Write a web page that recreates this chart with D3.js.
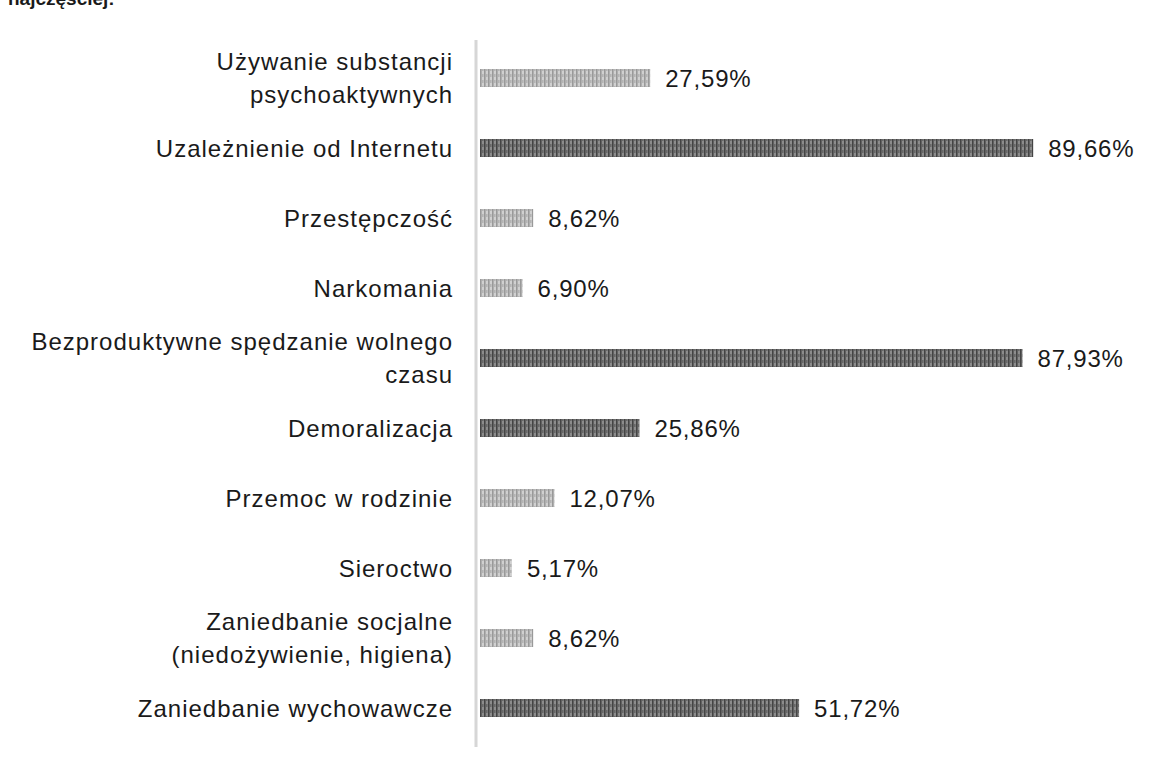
<!DOCTYPE html>
<html>
<head>
<meta charset="utf-8">
<script src="https://cdn.jsdelivr.net/npm/d3@7"></script>
<style>
  body { margin: 0; background: #fff; }
  svg text { font-family: "Liberation Sans", Arial, sans-serif; fill: #1a1a1a; }
</style>
</head>
<body>
<div id="chart"></div>
<script>
const categories = [
  ["Używanie substancji", "psychoaktywnych"],
  ["Uzależnienie od Internetu"],
  ["Przestępczość"],
  ["Narkomania"],
  ["Bezproduktywne spędzanie wolnego", "czasu"],
  ["Demoralizacja"],
  ["Przemoc w rodzinie"],
  ["Sieroctwo"],
  ["Zaniedbanie socjalne", "(niedożywienie, higiena)"],
  ["Zaniedbanie wychowawcze"]
];
const values = [27.59, 89.66, 8.62, 6.90, 87.93, 25.86, 12.07, 5.17, 8.62, 51.72];
const strongShade = [false, true, false, false, true, true, false, false, false, true];

const width = 1156, height = 771;
const svg = d3.select("#chart").append("svg")
  .attr("width", width)
  .attr("height", height);

// stripe patterns imitating the scanned texture
const defs = svg.append("defs");
function stripes(id, base, line) {
  const p = defs.append("pattern")
    .attr("id", id)
    .attr("patternUnits", "userSpaceOnUse")
    .attr("width", 4)
    .attr("height", 6);
  p.append("rect").attr("width", 4).attr("height", 6).attr("fill", base);
  p.append("rect").attr("x", 0).attr("width", 1.6).attr("height", 6).attr("fill", line);
  p.append("rect").attr("x", 2.5).attr("y", 2).attr("width", 0.8).attr("height", 3).attr("fill", line);
}
stripes("light", "#d0d0d0", "#999999");
stripes("dark", "#8c8c8c", "#444444");

const idx = d3.range(categories.length);
const y = d3.scaleBand().domain(idx).range([43, 743]).padding(0);
const x = d3.scaleLinear().domain([0, 100]).range([480, 1097]);

// caption cut by the top edge, as in the scan
svg.append("text")
  .attr("x", 8)
  .attr("y", 5)
  .style("font-size", "19px")
  .style("font-weight", "bold")
  .text("najczęściej:");

// axis line
svg.append("line")
  .attr("x1", 476).attr("x2", 476)
  .attr("y1", 40).attr("y2", 747)
  .attr("stroke", "#d6d6d6")
  .attr("stroke-width", 3);

const rows = svg.selectAll("g.row")
  .data(idx)
  .enter()
  .append("g")
  .attr("class", "row")
  .attr("transform", i => `translate(0, ${y(i) + y.bandwidth() / 2})`);

rows.append("rect")
  .attr("x", x(0))
  .attr("y", -9)
  .attr("width", i => x(values[i]) - x(0))
  .attr("height", 18)
  .attr("fill", i => strongShade[i] ? "url(#dark)" : "url(#light)");

rows.append("text")
  .attr("x", i => x(values[i]) + 15)
  .attr("y", 0)
  .attr("dy", "0.36em")
  .style("font-size", "24px")
  .style("letter-spacing", "0.8px")
  .text(i => values[i].toFixed(2).replace(".", ",") + "%");

rows.each(function (i) {
  const lines = categories[i];
  const t = d3.select(this).append("text")
    .attr("text-anchor", "end")
    .style("font-size", "24px")
    .style("letter-spacing", "1px");
  lines.forEach((l, k) => {
    t.append("tspan")
      .attr("x", 453)
      .attr("y", (k - (lines.length - 1) / 2) * 33)
      .attr("dy", "0.36em")
      .text(l);
  });
});
</script>
</body>
</html>
